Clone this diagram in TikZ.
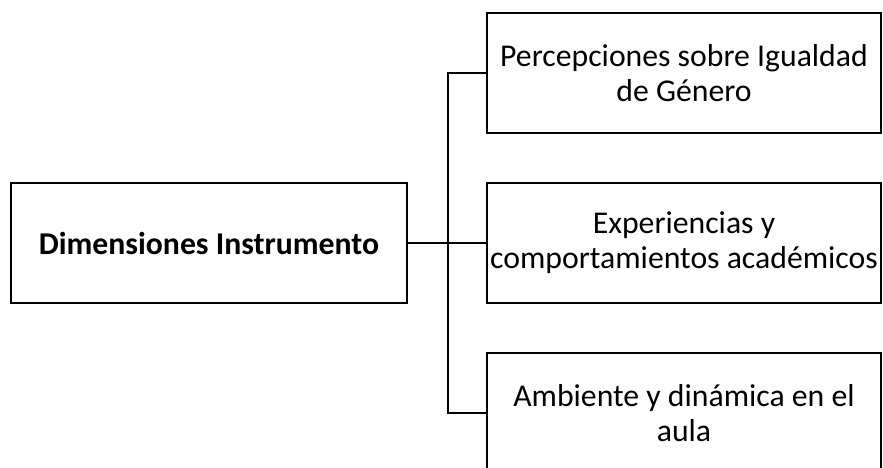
\documentclass[tikz,border=0pt]{standalone}
\usepackage{fontspec}
\setmainfont{Carlito}
\begin{document}
\begin{tikzpicture}[x=0.75pt,y=-0.75pt,
  box/.style={draw=black,line width=1.5pt,fill=white,minimum width=394*0.75pt,minimum height=120*0.75pt,inner sep=0pt,align=center,font=\fontsize{23.8}{26.4}\selectfont},
  conn/.style={draw=black,line width=1.5pt}]
\useasboundingbox (0,0) rectangle (883,468);
\clip (0,0) rectangle (883,468);
\node[box,minimum width=396*0.75pt] (L) at (209,243) {\bfseries Dimensiones Instrumento};
\node[box] (R1) at (684,73) {Percepciones sobre Igualdad\\de Género};
\node[box] (R2) at (684,243) {Experiencias y\\comportamientos académicos};
\node[box] (R3) at (684,413) {Ambiente y dinámica en el\\aula};
\coordinate (t1) at (448,73);
\coordinate (t3) at (448,413);
\draw[conn] (L.east) -- (R2.west);
\draw[conn] (R1.west) -- (t1) -- (t3) -- (R3.west);
\end{tikzpicture}
\end{document}
